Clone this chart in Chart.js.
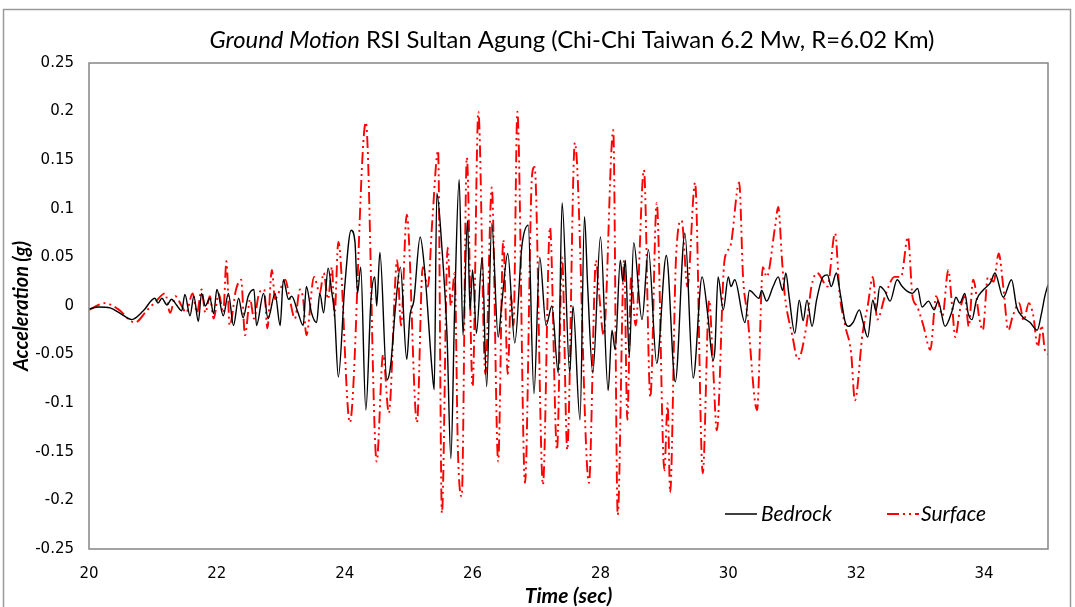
<!DOCTYPE html>
<html>
<head>
<meta charset="utf-8">
<script src="https://cdn.jsdelivr.net/npm/chart.js@4.4.1/dist/chart.umd.min.js"></script>
<style>
html,body{margin:0;padding:0;background:#fff;}
#wrap{width:1075px;height:607px;position:relative;}
</style>
</head>
<body>
<div id="wrap"><canvas id="c" width="1075" height="607"></canvas></div>
<script>
const titleItalic = "Ground Motion";
const titleRest = " RSI Sultan Agung (Chi-Chi Taiwan 6.2 Mw, R=6.02 Km)";
const xTitle = "Time (sec)";
const yTitle = "Acceleration (g)";
const seriesNames = ["Bedrock", "Surface"];

const bedrockTime = [20.00,20.15,20.33,20.50,20.67,20.85,21.03,21.08,21.14,21.22,21.29,21.37,21.45,21.50,21.58,21.64,21.71,21.76,21.82,21.89,21.95,22.00,22.10,22.18,22.26,22.34,22.41,22.49,22.58,22.62,22.73,22.80,22.91,22.99,23.04,23.12,23.17,23.27,23.35,23.40,23.48,23.56,23.61,23.67,23.74,23.80,23.84,23.90,24.00,24.10,24.16,24.20,24.25,24.33,24.41,24.47,24.50,24.55,24.66,24.72,24.79,24.87,24.97,25.02,25.08,25.18,25.25,25.37,25.40,25.44,25.52,25.60,25.66,25.72,25.79,25.85,25.92,25.96,26.00,26.06,26.15,26.22,26.30,26.40,26.46,26.55,26.66,26.77,26.87,26.96,27.05,27.15,27.24,27.34,27.40,27.52,27.57,27.68,27.75,27.80,27.88,28.00,28.12,28.18,28.23,28.31,28.35,28.39,28.45,28.52,28.65,28.75,28.88,29.03,29.17,29.32,29.45,29.59,29.68,29.76,29.79,29.84,29.92,30.00,30.04,30.10,30.26,30.33,30.48,30.52,30.60,30.70,30.78,30.85,30.90,30.95,31.04,31.11,31.17,31.23,31.31,31.38,31.48,31.55,31.61,31.69,31.75,31.83,31.88,31.95,32.05,32.10,32.18,32.26,32.31,32.37,32.45,32.53,32.64,32.72,32.80,32.88,32.96,33.03,33.13,33.22,33.28,33.39,33.50,33.56,33.62,33.70,33.75,33.81,33.88,33.98,34.10,34.17,34.30,34.43,34.51,34.60,34.72,34.83,34.90,34.95,35.00];
const bedrockAccel = [-0.003,-0.001,-0.002,-0.008,-0.014,-0.005,0.008,0.003,0.008,0.001,0.007,0.001,-0.005,0.012,-0.010,0.010,-0.016,0.013,0.000,0.008,-0.008,0.017,-0.010,0.013,-0.020,0.008,-0.012,0.010,0.017,-0.020,0.013,-0.013,0.013,-0.020,0.027,0.007,0.010,-0.007,-0.020,0.020,-0.007,-0.017,0.013,-0.007,0.039,0.013,-0.007,-0.073,0.020,0.078,0.066,0.013,0.040,-0.107,0.006,0.030,0.000,0.055,-0.076,-0.060,-0.004,0.040,-0.055,-0.010,0.005,0.071,0.037,-0.069,-0.086,0.116,0.060,-0.030,-0.157,0.000,0.130,-0.030,0.088,-0.004,0.037,-0.028,0.050,-0.083,0.085,-0.032,0.005,0.054,-0.038,0.061,0.083,-0.090,0.050,-0.020,0.000,-0.069,0.106,-0.069,0.000,-0.117,0.092,0.020,-0.069,0.071,-0.087,-0.025,-0.045,0.047,0.025,0.047,-0.052,0.065,-0.014,0.058,-0.059,0.052,-0.078,0.075,-0.074,0.030,-0.010,-0.056,-0.045,0.030,-0.004,0.030,0.020,0.027,-0.017,0.016,0.008,0.016,0.005,0.020,0.030,0.016,0.034,0.010,-0.028,0.006,-0.015,0.006,-0.021,0.006,0.030,0.032,0.020,0.034,0.013,-0.017,-0.021,-0.017,-0.004,-0.015,-0.032,0.006,-0.005,0.020,0.015,0.005,0.027,0.020,0.015,0.013,0.018,-0.001,0.005,-0.004,0.005,-0.021,-0.005,0.009,0.003,0.013,-0.007,-0.014,0.006,0.016,0.024,0.034,0.009,0.027,-0.001,-0.011,-0.017,-0.025,-0.007,0.010,0.022];

const surfaceTime = [20.00,20.25,20.45,20.72,20.90,21.05,21.19,21.27,21.35,21.45,21.52,21.62,21.69,21.76,21.82,21.89,21.95,22.03,22.10,22.15,22.20,22.30,22.38,22.44,22.52,22.58,22.66,22.74,22.79,22.86,22.91,22.99,23.07,23.14,23.22,23.30,23.35,23.40,23.52,23.61,23.67,23.74,23.80,23.84,23.90,24.08,24.33,24.50,24.60,24.69,24.82,24.88,24.97,25.13,25.22,25.30,25.37,25.46,25.52,25.61,25.66,25.72,25.77,25.83,25.91,26.00,26.09,26.20,26.30,26.40,26.48,26.55,26.60,26.64,26.70,26.82,26.93,26.97,27.10,27.21,27.32,27.40,27.48,27.60,27.82,27.93,27.97,28.05,28.20,28.27,28.37,28.42,28.48,28.55,28.68,28.78,28.88,29.00,29.05,29.09,29.18,29.27,29.36,29.48,29.60,29.70,29.76,29.82,29.94,30.03,30.17,30.23,30.30,30.45,30.54,30.60,30.73,30.78,30.84,30.88,31.00,31.09,31.22,31.30,31.39,31.55,31.67,31.74,31.83,31.92,31.98,32.10,32.18,32.26,32.33,32.45,32.60,32.70,32.81,32.88,32.95,33.05,33.16,33.25,33.35,33.44,33.50,33.55,33.62,33.70,33.76,33.83,33.93,33.98,34.06,34.15,34.23,34.30,34.38,34.45,34.55,34.62,34.70,34.77,34.84,34.90,34.95,35.00];
const surfaceAccel = [-0.004,0.003,-0.003,-0.017,-0.005,0.005,0.013,-0.007,0.010,0.000,-0.007,0.013,-0.007,0.017,-0.007,0.010,-0.013,0.013,-0.007,0.046,-0.020,0.017,0.027,-0.030,0.007,-0.013,0.013,0.017,-0.023,0.037,0.007,0.017,0.027,0.007,-0.013,0.017,0.007,-0.030,0.030,0.013,0.034,0.007,0.040,-0.010,0.066,-0.120,0.189,-0.160,-0.050,-0.110,0.047,-0.020,0.094,-0.120,0.040,0.020,0.088,0.160,-0.213,0.060,0.000,0.034,-0.148,-0.196,0.153,-0.083,0.200,-0.070,0.122,-0.160,0.068,-0.070,0.010,-0.020,0.200,-0.182,0.135,0.143,-0.184,0.081,-0.148,0.050,-0.148,0.168,-0.182,0.047,0.020,-0.030,0.181,-0.215,0.047,-0.117,0.030,-0.020,0.140,-0.094,0.106,-0.169,-0.100,-0.192,0.047,0.088,0.020,0.127,-0.172,0.006,-0.060,-0.128,0.047,0.061,0.127,0.030,-0.010,-0.107,0.040,0.030,0.081,0.102,0.047,0.013,-0.030,-0.055,-0.021,0.020,0.034,0.020,0.075,0.013,-0.021,-0.048,-0.097,-0.028,0.000,0.030,-0.014,0.010,0.030,0.030,0.071,0.010,0.000,-0.020,-0.045,0.010,-0.010,0.037,0.000,-0.032,-0.005,0.010,-0.021,0.027,-0.014,-0.025,0.030,0.025,0.054,0.020,-0.025,-0.010,0.003,-0.015,0.003,-0.010,-0.042,-0.020,-0.045,-0.050];

const xMin = 20, xMax = 35, xStep = 2;
const yMin = -0.25, yMax = 0.25, yStep = 0.05;

const seriesColors = ["#000000", "#ff0000"];
const surfaceDash = [12, 4, 2, 4, 2, 4];

function pts(t, v) { return t.map((x, i) => ({ x: x, y: v[i] })); }

const framePlugin = {
  id: 'frame',
  beforeDraw(chart) {
    const ctx = chart.ctx;
    ctx.save();
    ctx.fillStyle = '#ffffff';
    ctx.fillRect(0, 0, chart.width, chart.height);
    ctx.strokeStyle = '#9a9a9a';
    ctx.lineWidth = 1.5;
    ctx.strokeRect(3.5, 9.5, 1067, 620);
    ctx.restore();
  },
  afterDraw(chart) {
    const ctx = chart.ctx;
    const a = chart.chartArea;
    ctx.save();
    ctx.strokeStyle = '#858585';
    ctx.lineWidth = 1.5;
    ctx.strokeRect(a.left, a.top, a.right - a.left, a.bottom - a.top);

    // title with mixed italic/normal
    let fs = 21;
    const fItal = s => 'italic ' + s + 'px Lato';
    const fNorm = s => s + 'px Lato';
    ctx.font = fItal(fs); let w1 = ctx.measureText(titleItalic).width;
    ctx.font = fNorm(fs); let w2 = ctx.measureText(titleRest).width;
    fs = fs * 725 / (w1 + w2);
    ctx.font = fItal(fs); w1 = ctx.measureText(titleItalic).width;
    ctx.font = fNorm(fs); w2 = ctx.measureText(titleRest).width;
    const tx = 572 - (w1 + w2) / 2;
    ctx.fillStyle = '#000';
    ctx.textBaseline = 'middle';
    ctx.textAlign = 'left';
    ctx.font = fItal(fs); ctx.fillText(titleItalic, tx, 40);
    ctx.font = fNorm(fs); ctx.fillText(titleRest, tx + w1, 40);

    // legend inside plot area
    const ly = a.top + 451;
    ctx.lineWidth = 1.5;
    ctx.strokeStyle = seriesColors[0];
    ctx.setLineDash([]);
    ctx.beginPath(); ctx.moveTo(725, ly); ctx.lineTo(757, ly); ctx.stroke();
    ctx.strokeStyle = seriesColors[1];
    ctx.lineWidth = 2;
    ctx.setLineDash(surfaceDash);
    ctx.beginPath(); ctx.moveTo(887, ly); ctx.lineTo(919, ly); ctx.stroke();
    ctx.setLineDash([]);
    ctx.font = 'italic 21px Lato';
    ctx.fillStyle = '#000';
    ctx.fillText(seriesNames[0], 761, ly);
    ctx.fillText(seriesNames[1], 921, ly);
    ctx.restore();
  }
};

new Chart(document.getElementById('c'), {
  type: 'line',
  data: {
    datasets: [
      { label: seriesNames[0], data: pts(bedrockTime, bedrockAccel), borderColor: seriesColors[0], borderWidth: 1.4, pointRadius: 0, cubicInterpolationMode: 'monotone', fill: false },
      { label: seriesNames[1], data: pts(surfaceTime, surfaceAccel), borderColor: seriesColors[1], borderWidth: 1.9, borderDash: surfaceDash, pointRadius: 0, cubicInterpolationMode: 'monotone', fill: false }
    ]
  },
  options: {
    responsive: false,
    animation: false,
    layout: { padding: { left: 0, top: 63, right: 27, bottom: 0 } },
    plugins: { legend: { display: false }, title: { display: false }, tooltip: { enabled: false } },
    scales: {
      x: {
        type: 'linear', min: xMin, max: xMax,
        grid: { display: false, drawTicks: false }, border: { display: false },
        ticks: { stepSize: xStep, padding: 16, color: '#000', font: { family: 'DejaVu Sans', size: 15 },
          callback: v => (v % 2 === 0 && v < 35) ? String(v) : '' },
        title: { display: true, text: xTitle, color: '#000', padding: { top: 0, bottom: 0 }, font: { family: 'Lato', size: 21, style: 'italic', weight: 'bold', lineHeight: 1 } },
        afterFit: s => { s.height = 58; }
      },
      y: {
        min: yMin, max: yMax,
        grid: { display: false, drawTicks: false }, border: { display: false },
        ticks: { stepSize: yStep, padding: 15, color: '#000', font: { family: 'DejaVu Sans', size: 15 },
          callback: v => String(+v.toFixed(2)) },
        title: { display: true, text: yTitle, color: '#000', padding: { top: 12, bottom: 0 }, font: { family: 'Lato', size: 20, style: 'italic', weight: 'bold', lineHeight: 1 } },
        afterFit: s => { s.width = 89; }
      }
    }
  },
  plugins: [framePlugin]
});
</script>
</body>
</html>
